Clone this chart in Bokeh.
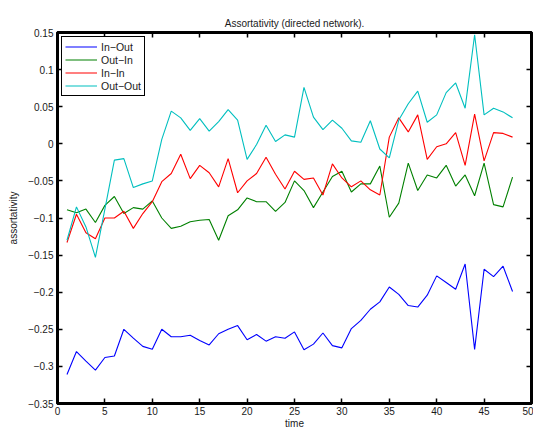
from bokeh.plotting import figure
from bokeh.models import Range1d, FixedTicker, LinearAxis, Legend, LegendItem
from bokeh.embed import file_html
from bokeh.resources import INLINE

time = list(range(1, 49))

in_out = [-0.311, -0.280, -0.293, -0.305, -0.288, -0.286, -0.250, -0.262, -0.273, -0.277,
          -0.250, -0.260, -0.260, -0.258, -0.265, -0.271, -0.256, -0.250, -0.245, -0.264,
          -0.257, -0.266, -0.260, -0.262, -0.2535, -0.2775, -0.270, -0.255, -0.272, -0.275,
          -0.249, -0.238, -0.223, -0.213, -0.193, -0.203, -0.218, -0.220, -0.204, -0.178,
          -0.187, -0.196, -0.162, -0.277, -0.169, -0.179, -0.165, -0.199]

out_in = [-0.089, -0.093, -0.088, -0.106, -0.083, -0.071, -0.094, -0.086, -0.088, -0.077,
          -0.100, -0.114, -0.111, -0.105, -0.103, -0.102, -0.130, -0.097, -0.089, -0.073,
          -0.078, -0.078, -0.091, -0.079, -0.050, -0.063, -0.086, -0.065, -0.044, -0.037,
          -0.065, -0.054, -0.054, -0.030, -0.099, -0.080, -0.026, -0.063, -0.042, -0.046,
          -0.029, -0.057, -0.042, -0.070, -0.026, -0.082, -0.085, -0.045]

in_in = [-0.133, -0.095, -0.120, -0.128, -0.100, -0.100, -0.091, -0.114, -0.094, -0.078,
         -0.051, -0.040, -0.014, -0.047, -0.029, -0.039, -0.058, -0.020, -0.066, -0.050,
         -0.040, -0.018, -0.041, -0.061, -0.037, -0.048, -0.046, -0.069, -0.027, -0.046,
         -0.058, -0.050, -0.062, -0.069, 0.009, 0.035, 0.016, 0.039, -0.021, -0.004,
         0.000, 0.015, -0.029, 0.040, -0.023, 0.015, 0.014, 0.009]

out_out = [-0.130, -0.085, -0.112, -0.153, -0.088, -0.022, -0.020, -0.059, -0.054, -0.050,
           0.006, 0.044, 0.035, 0.018, 0.034, 0.017, 0.030, 0.046, 0.032, -0.021,
           -0.001, 0.025, 0.003, 0.012, 0.009, 0.076, 0.036, 0.019, 0.032, 0.021,
           0.004, 0.002, 0.031, -0.007, -0.019, 0.032, 0.054, 0.071, 0.029, 0.039,
           0.069, 0.082, 0.048, 0.147, 0.039, 0.048, 0.043, 0.035]

series_names = ["In\u2212Out", "Out\u2212In", "In\u2212In", "Out\u2212Out"]
series_colors = ["#0000ff", "#008000", "#ff0000", "#00bfbf"]

x_ticks = [0, 5, 10, 15, 20, 25, 30, 35, 40, 45, 50]
x_tick_labels = ["0", "5", "10", "15", "20", "25", "30", "35", "40", "45", "50"]
y_ticks = [-0.35, -0.3, -0.25, -0.2, -0.15, -0.1, -0.05, 0.0, 0.05, 0.1, 0.15]
y_tick_labels = ["\u22120.35", "\u22120.3", "\u22120.25", "\u22120.2", "\u22120.15", "\u22120.1",
                 "\u22120.05", "0", "0.05", "0.1", "0.15"]

title_text = "Assortativity (directed network)."
x_label = "time"
y_label = "assortativity"

FONT = "Liberation Sans"
TXT = "#1a1a1a"

p = figure(width=533, height=431, output_backend="svg", toolbar_location=None,
           x_range=Range1d(0, 50), y_range=Range1d(-0.35, 0.15),
           min_border_left=57, min_border_right=2, min_border_top=32, min_border_bottom=24,
           background_fill_color="white", border_fill_color="white")
p.xgrid.visible = False
p.ygrid.visible = False
p.outline_line_color = "black"
p.outline_line_width = 3
p.outline_line_alpha = 1.0

p.title.text = title_text
p.title.align = "center"
p.title.text_font = FONT
p.title.text_font_size = "10px"
p.title.text_font_style = "normal"
p.title.text_color = TXT
p.title.standoff = 7


def style_axis(ax, ticks, labels, show_labels=True):
    ax.ticker = FixedTicker(ticks=ticks)
    ax.major_label_overrides = {t: l for t, l in zip(ticks, labels)}
    ax.minor_tick_line_color = None
    ax.major_tick_in = 5
    ax.major_tick_out = 0
    ax.major_tick_line_color = "black"
    ax.major_tick_line_width = 1.5
    ax.axis_line_color = "black"
    ax.axis_line_width = 3
    ax.axis_line_alpha = 1.0
    ax.major_label_text_font = FONT
    ax.major_label_text_color = TXT
    if show_labels:
        ax.major_label_text_font_size = "10px"
        ax.major_label_standoff = 4
        ax.axis_label_text_font = FONT
        ax.axis_label_text_font_size = "10px"
        ax.axis_label_text_font_style = "normal"
        ax.axis_label_text_color = TXT
    else:
        ax.major_label_text_font_size = "0px"
        ax.major_label_standoff = 0


style_axis(p.xaxis[0], x_ticks, x_tick_labels)
style_axis(p.yaxis[0], y_ticks, y_tick_labels)
p.xaxis[0].major_label_standoff = 3
p.xaxis[0].axis_label = x_label
p.xaxis[0].axis_label_standoff = 0
p.yaxis[0].axis_label = y_label
p.yaxis[0].axis_label_standoff = 6

top_axis = LinearAxis()
style_axis(top_axis, x_ticks, ["" for _ in x_ticks], show_labels=False)
p.add_layout(top_axis, "above")
right_axis = LinearAxis()
style_axis(right_axis, y_ticks, ["" for _ in y_ticks], show_labels=False)
p.add_layout(right_axis, "right")

renderers = []
for ys, name, col in zip([in_out, out_in, in_in, out_out], series_names, series_colors):
    r = p.line(time, ys, line_color=col, line_width=1.1)
    renderers.append((name, r))

legend = Legend(items=[LegendItem(label=n, renderers=[r]) for n, r in renderers],
                location="top_left", margin=4, padding=3, spacing=0,
                glyph_width=32, glyph_height=13, label_height=13, label_standoff=4,
                label_text_font=FONT, label_text_font_size="10.5px", label_text_color=TXT,
                border_line_color="black", border_line_width=1.2, border_line_alpha=1.0,
                background_fill_color="white", background_fill_alpha=1.0)
p.add_layout(legend)

open("out.html", "w").write(file_html(p, INLINE))
